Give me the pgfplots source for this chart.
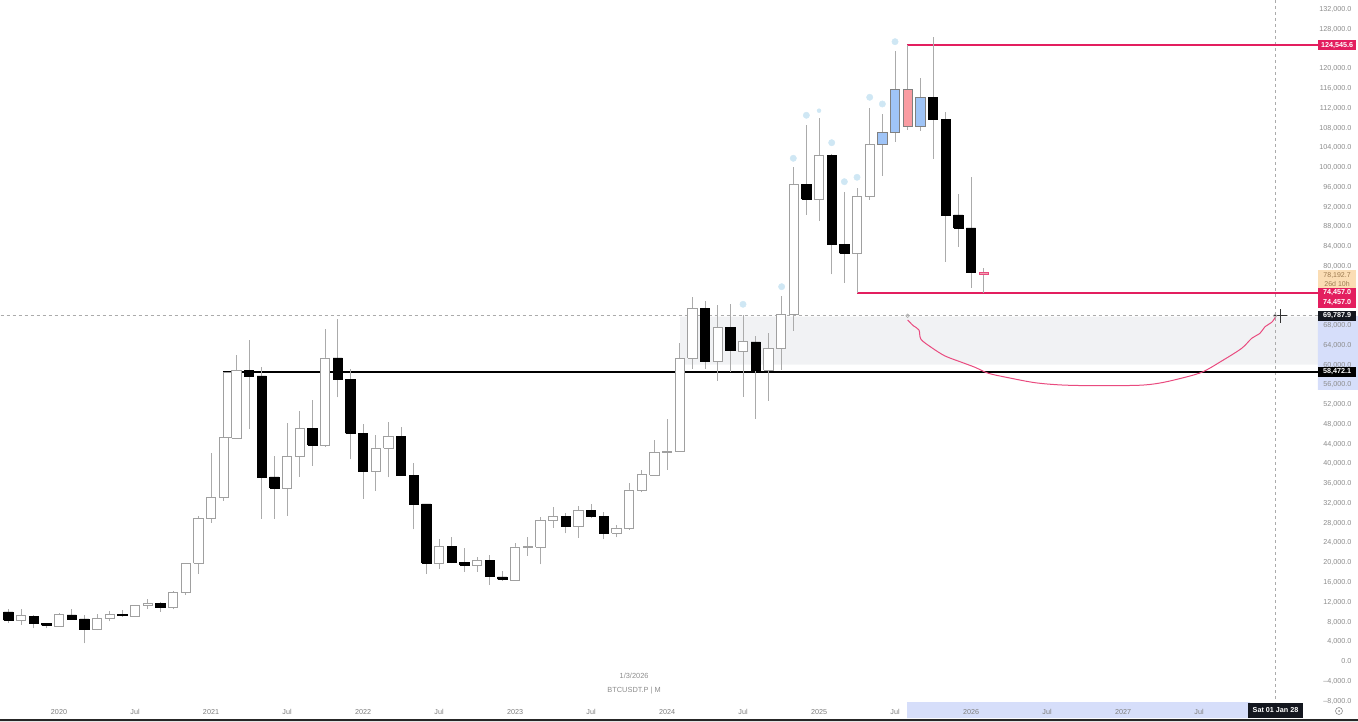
\documentclass[border=0pt]{standalone}
\usepackage{pgfplots}
\usepackage{pgfplotstable}
\usepackage{fontspec}
\setmainfont{Liberation Sans}
\pgfplotsset{compat=1.18}
\definecolor{wick}{HTML}{ABABAB}
\definecolor{wborder}{HTML}{A0A0A0}
\definecolor{tick}{HTML}{8C8C8C}
\definecolor{pinkline}{HTML}{E31E5F}
\definecolor{zone}{HTML}{F1F2F4}
\definecolor{band}{HTML}{D6DEFA}
\definecolor{dot}{HTML}{CFE7F4}
\definecolor{darkbox}{HTML}{14171F}
\definecolor{bluefill}{HTML}{9FC4F7}
\definecolor{redfill}{HTML}{F99CA2}
\definecolor{pinkfill}{HTML}{F0A0B0}
\definecolor{peach}{HTML}{FBDDB4}
\definecolor{tan}{HTML}{9C7A50}
% prices in thousands of USD; x = months after January 2020
\pgfplotstableread{
i top bot hi lo
-3 9.069 8.138 10.364 7.186
0 9.271 6.984 9.555 6.842
3 8.543 6.235 9.352 6.174
4 9.352 8.543 9.960 7.935
6 11.174 9.008 11.296 8.866
7 11.579 11.174 12.389 10.425
9 13.725 10.688 14.008 10.364
10 19.676 13.725 19.798 13.259
11 28.786 19.676 29.251 17.510
12 33.037 28.786 42.065 27.895
13 45.101 33.037 45.101 32.348
13.38 58.259 45.101 58.259 45.101
14 58.745 45.041 61.842 45.000
18 41.336 34.859 48.138 29.251
19 47.004 41.336 50.567 37.207
21 61.235 43.563 67.045 43.219
25 43.016 38.219 45.709 34.312
26 45.385 43.016 48.219 37.085
30 23.037 19.676 24.595 18.583
33 20.344 19.271 20.891 17.976
36 22.976 16.296 23.725 16.296
37 23.037 22.915 25.061 21.215
38 28.381 22.976 28.988 19.474
39 29.190 28.300 31.012 26.822
41 30.324 27.085 31.275 24.798
44 26.822 25.749 27.429 24.939
45 34.514 26.761 35.992 26.417
46 37.612 34.373 38.563 34.049
47 42.146 37.551 44.636 37.551
48 42.409 42.146 48.887 38.563
49 61.175 42.409 64.211 42.409
50 71.215 61.175 73.644 59.009
52 67.450 60.486 71.964 56.640
54 64.535 62.652 69.940 53.401
56 63.199 58.806 66.357 52.531
57 70.081 63.199 73.786 58.806
58 96.397 70.142 99.960 66.761
60 102.268 93.421 109.879 88.968
63 94.029 82.430 95.588 74.454
64 104.494 94.029 111.843 93.219
}\whitecandles
\pgfplotstableread{
i top bot hi lo
-4 9.818 8.198 10.364 7.652
-2 9.008 7.449 9.211 6.518
-1 7.449 7.126 7.652 6.518
1 9.211 8.401 10.425 8.340
2 8.401 6.235 9.211 3.482
5 9.352 9.069 10.283 8.806
8 11.579 10.688 11.903 9.879
15 58.745 57.591 64.879 46.802
16 57.591 37.146 59.474 28.644
17 37.146 34.919 41.458 28.644
20 47.004 43.624 52.733 39.433
22 61.235 56.842 69.069 53.280
23 56.842 45.992 58.948 40.729
24 45.992 38.300 47.875 32.753
27 45.385 37.490 47.328 37.348
28 37.490 31.680 39.919 26.559
29 31.680 19.737 31.680 17.510
31 23.037 19.879 25.061 19.676
32 19.798 19.332 22.713 17.976
34 20.344 16.964 21.296 15.283
35 16.903 16.437 18.178 16.154
40 29.110 27.085 29.798 25.749
42 30.324 29.110 31.620 28.786
43 29.110 25.749 30.122 24.535
51 71.215 60.486 72.774 59.009
53 67.450 62.713 72.106 58.462
55 64.474 58.806 65.689 48.887
59 96.316 93.421 108.401 90.183
61 102.268 84.170 102.531 78.178
62 84.170 82.430 94.899 76.478
69 113.928 109.555 126.154 101.519
70 109.555 90.183 111.094 80.729
71 90.183 87.551 94.434 83.766
72 87.551 78.583 97.935 75.466
}\blackcandles
\pgfplotstableread{
i top bot hi lo
65 106.923 104.413 110.628 98.138
66 115.628 106.984 123.442 104.960
68 113.928 108.057 117.855 107.187
}\bluecandles
\pgfplotstableread{
i top bot hi lo
67 115.628 108.057 124.535 107.389
}\redcandles
\pgfplotstableread{
i top bot hi lo
73 78.583 78.098 79.393 74.454
}\pinkcandles
\pgfplotstableread{
i p
54 72.106
57.05 75.668
57.97 101.660
59 110.365
61 104.818
62 96.924
63 97.814
64 114.009
65 112.652
66 125.264
}\dotpts
\newcommand{\candleset}[3]{%
  \pgfplotstablegetrowsof{#1}%
  \pgfmathtruncatemacro\candlelast{\pgfplotsretval-1}%
  \pgfplotsforeachungrouped \candlerow in {0,...,\candlelast}{%
    \pgfplotstablegetelem{\candlerow}{i}\of#1\let\candleX\pgfplotsretval
    \pgfplotstablegetelem{\candlerow}{top}\of#1\let\candleTop\pgfplotsretval
    \pgfplotstablegetelem{\candlerow}{bot}\of#1\let\candleBot\pgfplotsretval
    \pgfplotstablegetelem{\candlerow}{hi}\of#1\let\candleHi\pgfplotsretval
    \pgfplotstablegetelem{\candlerow}{lo}\of#1\let\candleLo\pgfplotsretval
    \pgfmathsetmacro\candleL{\candleX-0.365}%
    \pgfmathsetmacro\candleR{\candleX+0.365}%
    \edef\candledraw{%
      \noexpand\addplot[wick,line width=1pt,forget plot] coordinates {(\candleX,\candleLo) (\candleX,\candleHi)};
      \noexpand\addplot[draw=#2,fill=#3,line width=0.8pt,forget plot] coordinates {(\candleL,\candleBot) (\candleR,\candleBot) (\candleR,\candleTop) (\candleL,\candleTop) (\candleL,\candleBot)};
    }%
    \candledraw
  }%
}
\newcommand{\pricebox}[4]{\node[fill=#2,text=#3,inner sep=0pt,minimum width=38pt,minimum height=10.2pt,font=\fontsize{7.2}{8}\selectfont\bfseries] at (axis cs:100.9,#1) {#4};}
\pgfplotsset{canvas/.style={
  at={(0,0)},anchor=south west,
  scale only axis,width=1358pt,height=721pt,
  xmin=-4.658,xmax=102.55,ymin=-12.247,ymax=133.704,
}}
\begin{document}
\begin{tikzpicture}
\useasboundingbox (0,0) rectangle (1358pt,721pt);
% shaded zones behind the second axis and its tick labels
\begin{axis}[canvas,hide axis]
\addplot[draw=none,fill=zone,forget plot] coordinates {(49.03,69.596) (99.39,69.596) (99.39,59.879) (49.03,59.879) (49.03,69.596)};
\addplot[draw=none,fill=band,forget plot] coordinates {(99.39,69.737) (102.55,69.737) (102.55,54.758) (99.39,54.758) (99.39,69.737)};
\addplot[draw=none,fill=band,forget plot] coordinates {(66.95,-8.401) (94.03,-8.401) (94.03,-11.64) (66.95,-11.64) (66.95,-8.401)};
\addplot[draw=none,fill=black!85,forget plot] coordinates {(-4.658,-11.842) (102.55,-11.842) (102.55,-12.247) (-4.658,-12.247) (-4.658,-11.842)};
\end{axis}
\begin{axis}[canvas,
  axis line style={draw=none},
  major tick length=0pt,
  tick style={draw=none},
  ytick={132,128,120,116,112,108,104,100,96,92,88,84,80,68,64,60,56,52,48,44,40,36,32,28,24,20,16,12,8,4,0,-4,-8},
  yticklabels={{132,000.0},{128,000.0},{120,000.0},{116,000.0},{112,000.0},{108,000.0},{104,000.0},{100,000.0},{96,000.0},{92,000.0},{88,000.0},{84,000.0},{80,000.0},{68,000.0},{64,000.0},{60,000.0},{56,000.0},{52,000.0},{48,000.0},{44,000.0},{40,000.0},{36,000.0},{32,000.0},{28,000.0},{24,000.0},{20,000.0},{16,000.0},{12,000.0},{8,000.0},{4,000.0},{0.0},{--4,000.0},{--8,000.0}},
  yticklabel pos=right,
  yticklabel style={anchor=east,xshift=-3pt,yshift=-1pt,text=tick,font=\fontsize{7.2}{8}\selectfont},
  xtick={0,6,12,18,24,30,36,42,48,54,60,66,72,78,84,90},
  xticklabels={2020,Jul,2021,Jul,2022,Jul,2023,Jul,2024,Jul,2025,Jul,2026,Jul,2027,Jul},
  xticklabel style={anchor=south,yshift=3pt,text=tick!90!black,font=\fontsize{7.2}{8}\selectfont},
  unbounded coords=jump,
  clip=true,
]
% crosshair
\addplot[wick,line width=0.6pt,dash pattern=on 3pt off 3pt,forget plot] coordinates {(-4.6,69.7879) (99.39,69.7879)};
\addplot[wick,line width=0.6pt,dash pattern=on 3pt off 3pt,forget plot] coordinates {(96,133.704) (96,-8.401)};
% levels
\addplot[black,line width=2.2pt,forget plot] coordinates {(12.95,58.4721) (99.39,58.4721)};
\addplot[pinkline,line width=2pt,forget plot] coordinates {(66.95,124.5456) (99.39,124.5456)};
\addplot[pinkline,line width=2pt,forget plot] coordinates {(63,74.457) (99.39,74.457)};
% curve
\addplot[pinkline!80,line width=1pt,smooth,forget plot] coordinates {
(67.0,68.927) (67.44,67.774) (67.89,66.903) (68.05,65.021) (68.9,63.320) (69.95,61.640) (71.26,60.365) (72.31,59.353)
(73.37,58.138) (74.94,57.247) (77.05,56.235) (79.16,55.769) (81.79,55.628) (85.21,55.709) (86.79,56.114) (88.36,56.984)
(90.21,58.340) (91.79,60.628) (93.37,63.199) (94.16,65.223) (94.81,66.235) (95.21,67.571) (95.74,68.462) (96.05,69.596)};
\addplot[only marks,mark=o,mark size=1.8pt,mark options={draw=wick,line width=0.6pt},forget plot] coordinates {(67.0,69.787) (96,69.787)};
% dots
\addplot[only marks,color=dot,mark=*,mark size=3.2pt,mark options={draw=dot,fill=dot},forget plot] table[x=i,y=p] {\dotpts};
\addplot[only marks,color=dot,mark=*,mark size=2pt,mark options={draw=dot,fill=dot},forget plot] coordinates {(60,111.296)};
% candles
\candleset{\whitecandles}{wborder}{white}
\candleset{\blackcandles}{black}{black}
\candleset{\bluecandles}{gray}{bluefill}
\candleset{\redcandles}{gray}{redfill}
\candleset{\pinkcandles}{pinkline!80}{pinkfill}
% cursor
\addplot[black!80,line width=0.7pt,forget plot] coordinates {(95.85,69.7879) (96.95,69.7879) (nan,nan) (96.4,68.35) (96.4,71.2)};
% labels
\pricebox{124.5456}{pinkline}{white}{124,545.6}
\node[fill=peach,text=tan,inner sep=0pt,minimum width=38pt,minimum height=20pt,align=center,font=\fontsize{7}{9}\selectfont] at (axis cs:100.9,77.1) {78,192.7\\26d 10h};
\pricebox{74.395}{pinkline}{white}{74,457.0}
\pricebox{72.369}{pinkline}{white}{74,457.0}
\pricebox{69.7879}{darkbox}{white}{69,787.9}
\pricebox{58.4721}{black}{white}{58,472.1}
\node[fill=darkbox,text=white,inner sep=0pt,minimum width=55pt,minimum height=15pt,font=\fontsize{7.2}{8}\selectfont\bfseries] at (axis cs:96.04,-10.02) {Sat 01 Jan 28};
\node[circle,draw=tick,line width=0.6pt,minimum size=7pt,inner sep=0pt] at (axis cs:101.05,-10.223) {};
\node[circle,fill=tick,minimum size=2pt,inner sep=0pt] at (axis cs:101.05,-10.223) {};
\node[text=tick,font=\fontsize{7.4}{8}\selectfont] at (axis cs:45.4,-3.1) {1/3/2026};
\node[text=tick,font=\fontsize{7.4}{8}\selectfont] at (axis cs:45.4,-6.13) {BTCUSDT.P | M};
\end{axis}
\end{tikzpicture}
\end{document}
